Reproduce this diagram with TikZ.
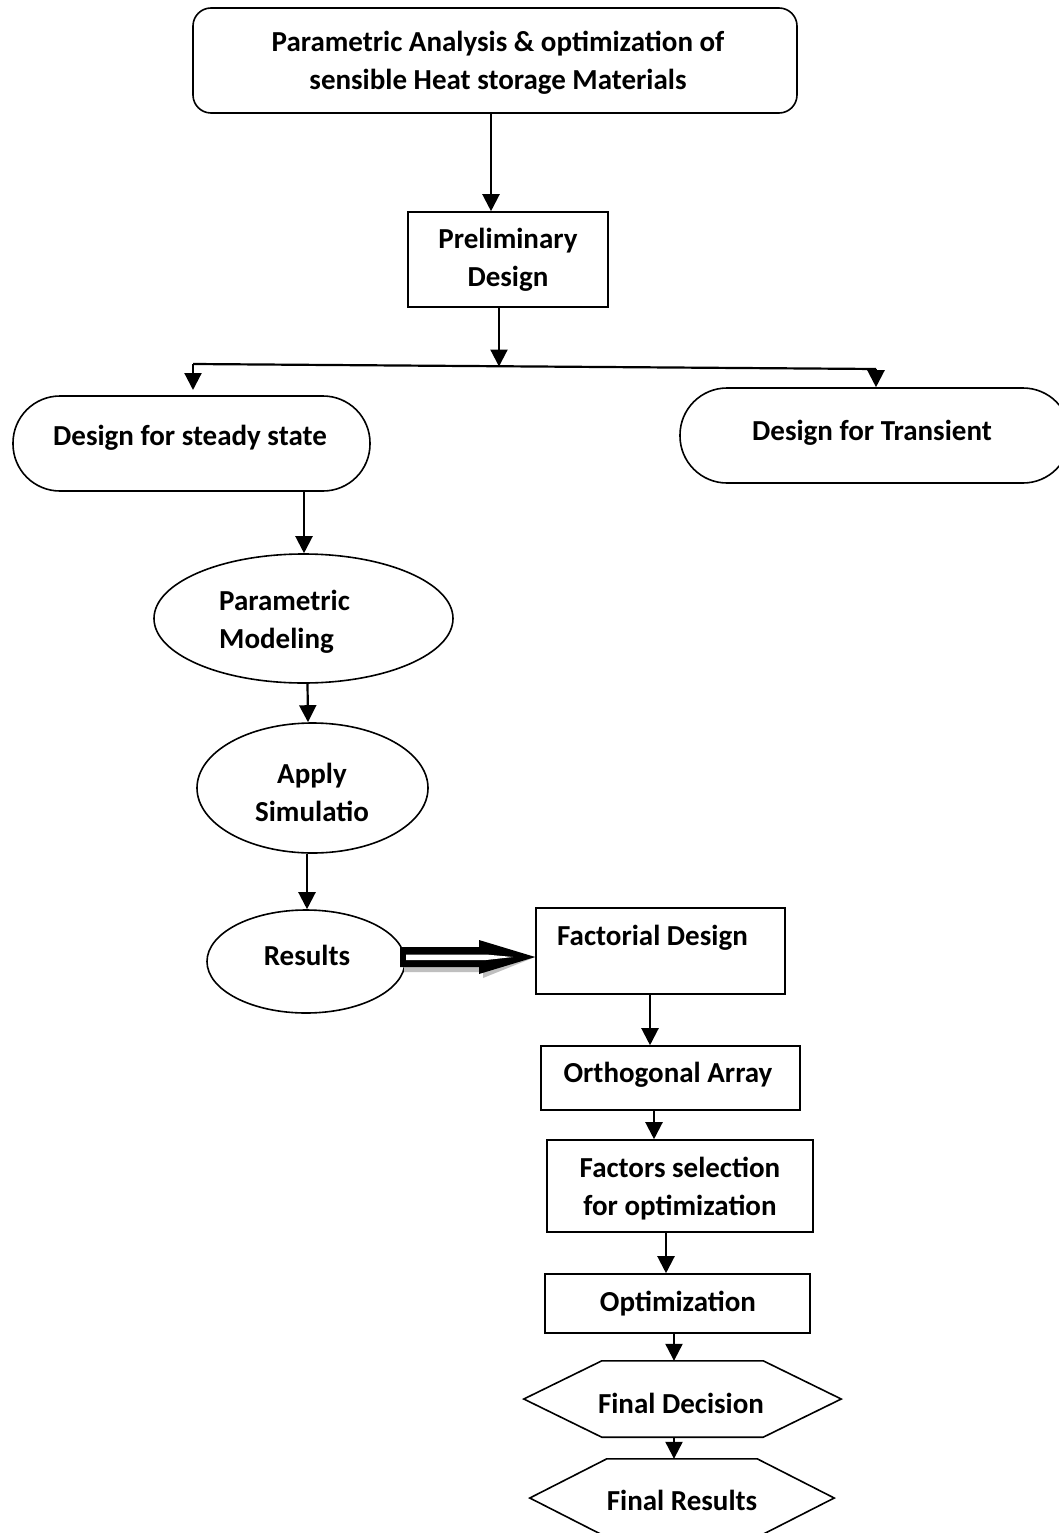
\documentclass[tikz,border=0pt]{standalone}
\usepackage{fontspec}
\setmainfont{Carlito}
\usetikzlibrary{arrows.meta,calc,shapes.geometric}
\begin{document}
\begin{tikzpicture}[x=1pt,y=-1pt,
  txt/.style={font=\fontsize{29}{38}\selectfont\bfseries, align=center, inner sep=0pt},
  boxshape/.style={draw, line width=1.6pt, rectangle, inner sep=0pt},
  topbox/.style={draw, line width=1.6pt, rectangle, rounded corners=18pt, inner sep=0pt},
  stadium/.style={draw, line width=1.6pt, rectangle, rounded corners=47pt, inner sep=0pt},
  ellshape/.style={draw, line width=1.6pt, ellipse, inner sep=0pt},
  hexbase/.style={inner sep=0pt},
  arr/.style={line width=2.2pt, -{Triangle[length=17pt,width=17pt]}},
  plain/.style={line width=2.2pt}
]
\clip (0,0) rectangle (1059,1533);
\fill[white] (0,0) rectangle (1059,1533);

% top box
\node[topbox, minimum width=604pt, minimum height=105pt] (top) at (495,60.5) {};
\node[txt] (toptxt) at (498,63) {Parametric Analysis \& optimization of\\sensible Heat storage Materials};

% preliminary
\node[boxshape, minimum width=200pt, minimum height=95pt] (prelim) at (508,259.5) {};
\node[txt] (prelimtxt) at (508,260) {Preliminary\\Design};

% branch
\coordinate (bl) at (193,364);
\coordinate (br) at (876,369);
\coordinate (bm) at (499,366.5);

% steady / transient
\node[stadium, minimum width=357pt, minimum height=95pt] (steady) at (191.5,443.5) {};
\node[txt] (steadytxt) at (190,438) {Design for steady state};
\node[stadium, minimum width=390pt, minimum height=95pt] (trans) at (875,435.5) {};
\node[txt] (transtxt) at (872,433) {Design for Transient};

% ellipses
\node[ellshape, minimum width=299pt, minimum height=129pt] (pm) at (303.5,618.5) {};
\node[txt, align=left, anchor=west] (pmtxt) at (219,622) {Parametric\\Modeling};
\node[ellshape, minimum width=231pt, minimum height=130pt] (sim) at (312.5,788) {};
\node[txt] (simtxt) at (312,792) {Apply\\Simulatio};
\node[ellshape, minimum width=198pt, minimum height=103pt] (res) at (306,961.5) {};
\node[txt] (restxt) at (307,955) {Results};

% right column boxes
\node[boxshape, minimum width=249pt, minimum height=86pt] (fact) at (660.5,951) {};
\node[txt, anchor=west] (facttxt) at (557,938) {Factorial Design};
\node[boxshape, minimum width=259pt, minimum height=64pt] (orth) at (670.5,1078) {};
\node[txt] (orthtxt) at (668,1075) {Orthogonal Array};
\node[boxshape, minimum width=266pt, minimum height=92pt] (factors) at (680,1186) {};
\node[txt] (factorstxt) at (680,1189) {Factors selection\\for optimization};
\node[boxshape, minimum width=265pt, minimum height=59pt] (opt) at (677.5,1303.5) {};
\node[txt] (opttxt) at (678,1304) {Optimization};

% hexagons
\node[hexbase, minimum width=317pt, minimum height=76pt] (fd) at (682.5,1399) {};
\draw[line width=1.6pt] (fd.west) -- ([xshift=78pt]fd.north west) -- ([xshift=-78pt]fd.north east) -- (fd.east) -- ([xshift=-78pt]fd.south east) -- ([xshift=78pt]fd.south west) -- cycle;
\node[txt] (fdtxt) at (681,1403) {Final Decision};
\node[hexbase, minimum width=304pt, minimum height=78pt] (fr) at (682,1498) {};
\draw[line width=1.6pt] (fr.west) -- ([xshift=77pt]fr.north west) -- ([xshift=-77pt]fr.north east) -- (fr.east) -- ([xshift=-77pt]fr.south east) -- ([xshift=77pt]fr.south west) -- cycle;
\node[txt] (frtxt) at (682,1500) {Final Results};

% connectors
\draw[arr] (top.south -| 491,0) -- (prelim.north -| 491,0);
\draw[arr] (prelim.south -| bm) -- (bm);
\draw[plain] (bl) -- (br);
\draw[arr] (bl) -- (193,390);
\draw[arr] (br) -- (trans.north -| br);
\draw[arr] (steady.south -| 304,0) -- (pm.north -| 304,0);
\draw[arr] ([xshift=4pt]pm.south) -- (sim.north -| 308,0);
\draw[arr] (sim.south -| 307,0) -- (res.north -| 307,0);
\draw[arr] (fact.south -| 650,0) -- (orth.north -| 650,0);
\draw[arr] (orth.south -| 654,0) -- (factors.north -| 654,0);
\draw[arr] (factors.south -| 666,0) -- (opt.north -| 666,0);
\draw[arr] (opt.south -| 674,0) -- (fd.north -| 674,0);
\draw[arr] (fd.south -| 674,0) -- (fr.north -| 674,0);

% hollow double arrow Results -> Factorial Design
\coordinate (dtip) at (fact.west |- 0,957);
\begin{scope}[shift={(4pt,-5pt)}]
\fill[black!25] (400,947) -- (479,947) -- (479,941) -- (dtip) -- (479,973) -- (479,967) -- (400,967) -- cycle;
\end{scope}
\fill[black] (400,947) -- (479,947) -- (479,940) -- (dtip) -- (479,974) -- (479,967) -- (400,967) -- cycle;
\fill[white] (406,954.5) -- (486,954.5) -- (513,957) -- (486,960) -- (406,960) -- cycle;
\end{tikzpicture}
\end{document}
